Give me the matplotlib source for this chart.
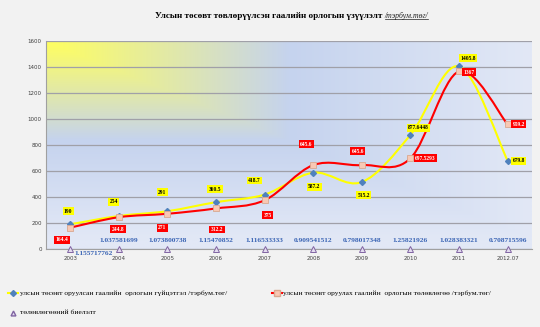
import numpy as np
import matplotlib
matplotlib.use('Agg')
import matplotlib.pyplot as plt
from matplotlib.path import Path
from matplotlib.patches import PathPatch

# Chart data
years = ['2003', '2004', '2005', '2006', '2007', '2008', '2009', '2010', '2011', '2012.07']
actual = [190, 254, 291, 360.5, 418.7, 587.2, 515.2, 877.6448, 1405.8, 679.8]
plan = [164.4, 244.8, 271, 312.2, 375, 645.6, 645.6, 697.5293, 1367, 959.2]
ratio = [1.155717762, 1.037581699, 1.073800738, 1.15470852, 1.116533333,
         0.909541512, 0.798017348, 1.25821926, 1.028383321, 0.708715596]

actual_lbl = ['190', '254', '291', '360.5', '418.7', '587.2', '515.2', '877.6448', '1405.8', '679.8']
plan_lbl = ['164.4', '244.8', '271', '312.2', '375', '645.6', '645.6', '697.5293', '1367', '959.2']
ratio_lbl = ['1.155717762', '1.037581699', '1.073800738', '1.15470852', '1.116533333',
             '0.909541512', '0.798017348', '1.25821926', '1.028383321', '0.708715596']

title = 'Улсын төсөвт төвлөрүүлсэн гаалийн орлогын үзүүлэлт '
title_unit = '/тэрбум.төг/'
leg_actual = 'улсын төсөвт оруулсан гаалийн  орлогын гүйцэтгэл /тэрбум.төг/'
leg_plan = 'улсын төсөвт оруулах гаалийн  орлогын төлөвлөгөө /тэрбум.төг/'
leg_ratio = 'төлөвлөгөөний биелэлт'

SERIF = 'Liberation Serif'
PX = 0.72  # pixels -> points at dpi 100


def smooth_path(xs, ys):
    """Excel-like smoothed line: Catmull-Rom converted to cubic Bezier."""
    pts = np.column_stack([xs, ys]).astype(float)
    n = len(pts)
    verts = [pts[0]]
    codes = [Path.MOVETO]
    for i in range(n - 1):
        p0 = pts[i - 1] if i > 0 else pts[i]
        p1 = pts[i]
        p2 = pts[i + 1]
        p3 = pts[i + 2] if i + 2 < n else pts[i + 1]
        c1 = p1 + (p2 - p0) / 6.0
        c2 = p2 - (p3 - p1) / 6.0
        verts += [c1, c2, p2]
        codes += [Path.CURVE4] * 3
    return Path(verts, codes)


fig = plt.figure(figsize=(5.4, 3.27), dpi=100, facecolor='#f2f2f2')
ax = fig.add_axes([0.085, 0.2385, 0.9, 0.636])
x = np.arange(len(years))
ax.set_xlim(-0.5, len(years) - 0.5)
ax.set_ylim(0, 1600)

# gradient background from the top-left corner: yellow -> blue -> light blue
gx, gy = np.meshgrid(np.linspace(0, 1, 400), np.linspace(1, 0, 250))
t = np.maximum(gx, (1 - gy) * 1.05)
yellow = np.array([255, 255, 95]) / 255
blue = np.array([197, 211, 238]) / 255
light = np.array([226, 232, 246]) / 255
s1 = np.clip(t / 0.5, 0, 1)[..., None]
s2 = np.clip((t - 0.5) / 0.5, 0, 1)[..., None]
img = yellow * (1 - s1) + blue * s1
img = img * (1 - s2) + light * s2
ax.imshow(img, extent=[0, 1, 0, 1], transform=ax.transAxes, aspect='auto', zorder=0)

ax.set_yticks(range(0, 1601, 200))
ax.yaxis.grid(True, color='#a0a0a8', linewidth=0.9)
ax.set_axisbelow(True)
for s in ['top', 'right']:
    ax.spines[s].set_visible(False)
ax.spines['left'].set_color('#a0a0a0')
ax.spines['bottom'].set_color('#a0a0a0')
ax.set_xticks(x)
ax.set_xticklabels(years)
ax.tick_params(axis='both', labelsize=4, colors='#404040', length=0, pad=3)
ax.tick_params(axis='x', pad=5)

# smoothed lines
ax.add_patch(PathPatch(smooth_path(x, actual), fill=False, edgecolor='#ffff00', lw=1.5, zorder=3))
ax.add_patch(PathPatch(smooth_path(x, plan), fill=False, edgecolor='#ff0000', lw=1.5, zorder=3))
ax.plot(x, actual, linestyle='none', marker='D', ms=3, color='#4f81bd', zorder=4)
ax.plot(x, plan, linestyle='none', marker='s', ms=4.5, mfc='#f8c8b4', mec='#d8a890', mew=0.6, zorder=4)
ax.plot(x, ratio, linestyle='none', marker='^', ms=4, mfc='#e4dcf0', mec='#8064a2', mew=0.7,
        zorder=5, clip_on=False)

# data label offsets in pixels (dx right, dy up)
actual_off = [(-2, 13), (-5, 14), (-5, 19), (-1, 13), (-10, 14), (1, -14), (2, -13), (8, 7), (9, 8), (11, 0)]
plan_off = [(-8, -12), (-1, -12), (-5, -14), (1, -21), (3, -15), (-7, 21), (-4, 14), (15, 0), (10, -1), (11, 0)]
ratio_off = [(23, -5)] + [(0, 8)] * 9

for i in range(len(years)):
    ax.annotate(actual_lbl[i], (x[i], actual[i]),
                xytext=(actual_off[i][0] * PX, actual_off[i][1] * PX), textcoords='offset points',
                ha='center', va='center', fontsize=4, fontweight='bold', family=SERIF, color='black',
                bbox=dict(boxstyle='square,pad=0.25', fc='#ffff00', ec='none'), zorder=6)
    ax.annotate(plan_lbl[i], (x[i], plan[i]),
                xytext=(plan_off[i][0] * PX, plan_off[i][1] * PX), textcoords='offset points',
                ha='center', va='center', fontsize=4, fontweight='bold', family=SERIF, color='white',
                bbox=dict(boxstyle='square,pad=0.25', fc='#ff0000', ec='none'), zorder=6)
    ax.annotate(ratio_lbl[i], (x[i], ratio[i]),
                xytext=(ratio_off[i][0] * PX, ratio_off[i][1] * PX), textcoords='offset points',
                ha='center', va='center', fontsize=5.3, fontweight='bold', family=SERIF,
                color='#3a64b4', zorder=6, annotation_clip=False)

# title with underlined unit
t_main = fig.text(0.287, 0.951, title, ha='left', va='center', fontsize=6.6, fontweight='bold', family=SERIF)
fig.canvas.draw()
bb = t_main.get_window_extent()
t_unit = fig.text(bb.x1 / 540, 0.951, title_unit, ha='left', va='center', fontsize=5.6,
                  style='italic', family=SERIF, color='#202020')
fig.canvas.draw()
ub = t_unit.get_window_extent()
fig.lines.append(plt.Line2D([ub.x0 / 540, ub.x1 / 540], [(ub.y0 + 1) / 327] * 2, color='#202020',
                            lw=0.5, transform=fig.transFigure))

# legend (drawn manually in figure coordinates)
ly1 = 1 - 293 / 327
ly2 = 1 - 313 / 327
fig.lines.append(plt.Line2D([8 / 540, 18 / 540], [ly1, ly1], color='#ffff00', lw=1.5,
                            transform=fig.transFigure))
fig.lines.append(plt.Line2D([13 / 540], [ly1], marker='D', ms=3, color='#4f81bd', linestyle='none',
                            transform=fig.transFigure))
fig.text(20 / 540, ly1, leg_actual, ha='left', va='center', fontsize=5.4, family=SERIF)
fig.lines.append(plt.Line2D([272 / 540, 282 / 540], [ly1, ly1], color='#ff0000', lw=1.5,
                            transform=fig.transFigure))
fig.lines.append(plt.Line2D([277 / 540], [ly1], marker='s', ms=4, mfc='#f8c8b4', mec='#d8a890',
                            linestyle='none', transform=fig.transFigure))
fig.text(283 / 540, ly1, leg_plan, ha='left', va='center', fontsize=5.4, family=SERIF)
fig.lines.append(plt.Line2D([13 / 540], [ly2], marker='^', ms=3.5, mfc='#e4dcf0', mec='#8064a2',
                            linestyle='none', transform=fig.transFigure))
fig.text(20 / 540, ly2, leg_ratio, ha='left', va='center', fontsize=5.4, family=SERIF)

fig.savefig('out.png', dpi=100, facecolor=fig.get_facecolor())
